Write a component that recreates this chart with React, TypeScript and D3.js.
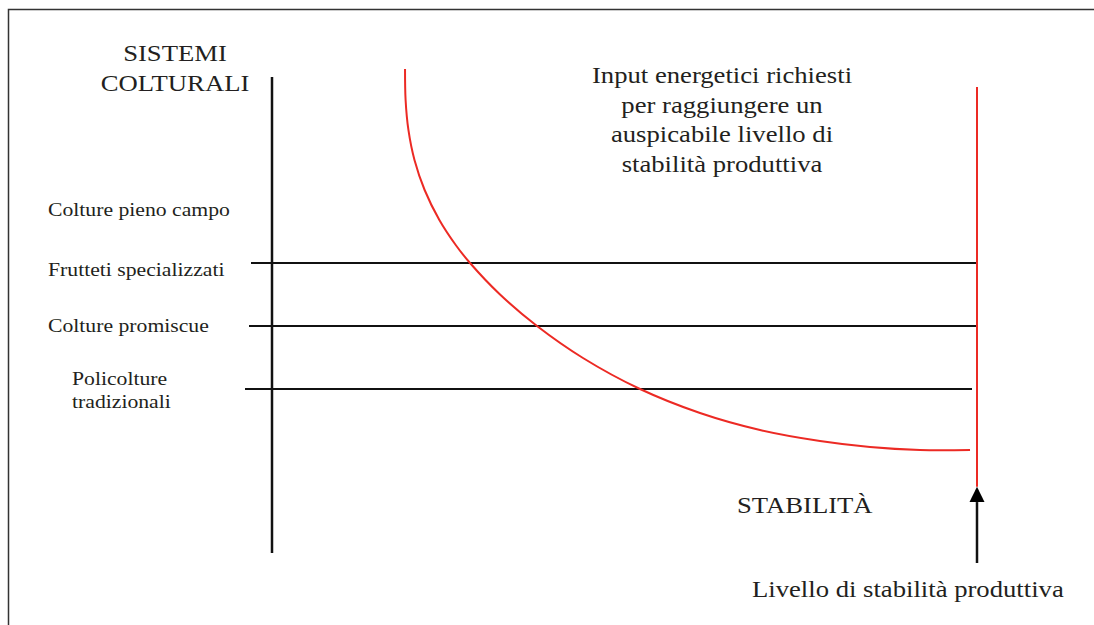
import React from 'react';
import * as d3 from 'd3';

// categories of cropping systems (top to bottom)
const categories = ['Colture pieno campo', 'Frutteti specializzati', 'Colture promiscue', 'Policolture tradizionali'];
const categoryLines = [
  ['Colture pieno campo'],
  ['Frutteti specializzati'],
  ['Colture promiscue'],
  ['Policolture', 'tradizionali'],
];
// which categories get a horizontal line
const withLine = [false, true, true, true];

// red curve: energy input needed vs stability (x 0..100 stability, y 0..100 on the axis)
const curveX = [18.87, 18.95, 19.35, 20.21, 21.65, 23.74, 26.06, 28.09, 32.27, 37.59, 44.11, 52.2, 60.71, 69.22, 77.73, 84.82, 91.91, 99.01];
const curveY = [101.68, 95.17, 88.87, 82.56, 76.26, 69.96, 64.71, 60.92, 54.41, 47.69, 40.97, 34.45, 29.41, 25.84, 23.53, 22.27, 21.64, 21.64];

// productive stability level line
const levelX = 100;
const levelTop = 97.9;
const levelBottom = 13.9;
const arrowBase = 10.7;
const arrowEnd = -2.1;

const titleLines = ['SISTEMI', 'COLTURALI'];
const noteLines = ['Input energetici richiesti', 'per raggiungere un', 'auspicabile livello di', 'stabilità produttiva'];
const stabilityLabel = 'STABILITÀ';
const levelLabel = 'Livello di stabilità produttiva';

export default function App() {
  const W = 1094;
  const H = 625;
  const sx = 1.16; // text in the picture is stretched horizontally
  const ink = '#231f20';
  const red = '#ec2a24';
  const serif = "'Liberation Serif', 'Times New Roman', serif";

  const xScale = d3.scaleLinear().domain([0, 100]).range([272, 977]);
  const yScale = d3.scaleLinear().domain([0, 100]).range([553, 77]);
  const catScale = d3.scalePoint().domain(categories).range([200, 389]);

  const curve = d3
    .line<number>()
    .x((d, i) => xScale(curveX[i]))
    .y((d, i) => yScale(curveY[i]))
    .curve(d3.curveCatmullRom.alpha(0.5));

  const labelDy = [16, 13, 6, -4];
  const labelX = [48, 48, 48, 72];
  const lineLeft = [0, 21, 23, 27];
  const lineRight = [0, 0, 0, 5];

  const ax = xScale(levelX);

  return (
    <svg width={W} height={H} style={{ position: 'absolute', left: 0, top: 0, background: '#fff' }} fontFamily={serif}>
      <rect x={8.5} y={9.5} width={1200} height={700} fill="none" stroke="#333" strokeWidth={1.5} />

      {/* title */}
      {titleLines.map((t, i) => (
        <text key={t} transform={`translate(175,${61 + i * 30}) scale(${sx},1)`} textAnchor="middle" fontSize={23} fill={ink}>
          {t}
        </text>
      ))}

      {/* vertical axis */}
      <line x1={xScale(0)} x2={xScale(0)} y1={yScale(100)} y2={yScale(0)} stroke="#111" strokeWidth={2.5} />

      {/* category labels and lines */}
      {categories.map((c, i) => {
        const y = catScale(c) as number;
        return (
          <g key={c}>
            {categoryLines[i].map((t, j) => (
              <text key={t} transform={`translate(${labelX[i]},${y + labelDy[i] + j * 23}) scale(${sx},1)`} fontSize={18.7} fill={ink}>
                {t}
              </text>
            ))}
            {withLine[i] && (
              <line x1={xScale(0) - lineLeft[i]} x2={xScale(levelX) - lineRight[i]} y1={y} y2={y} stroke="#111" strokeWidth={2} />
            )}
          </g>
        );
      })}

      {/* red curve */}
      <path d={curve(curveX) || ''} fill="none" stroke={red} strokeWidth={2} />

      {/* stability level */}
      <line x1={ax} x2={ax} y1={yScale(levelTop)} y2={yScale(levelBottom)} stroke={red} strokeWidth={2} />
      <line x1={ax} x2={ax} y1={yScale(arrowBase)} y2={yScale(arrowEnd)} stroke="#111" strokeWidth={2.5} />
      <path
        d={`M${ax},${yScale(levelBottom)} L${ax + 7.5},${yScale(arrowBase)} L${ax - 7.5},${yScale(arrowBase)} Z`}
        fill="#000"
      />

      {/* note */}
      {noteLines.map((t, i) => (
        <text key={t} transform={`translate(722,${83 + i * 29.5}) scale(${sx},1)`} textAnchor="middle" fontSize={23} fill={ink}>
          {t}
        </text>
      ))}

      <text transform={`translate(737,513) scale(${sx},1)`} fontSize={23} fill={ink}>
        {stabilityLabel}
      </text>
      <text transform={`translate(752,597) scale(${sx},1)`} fontSize={23} fill={ink}>
        {levelLabel}
      </text>
    </svg>
  );
}
